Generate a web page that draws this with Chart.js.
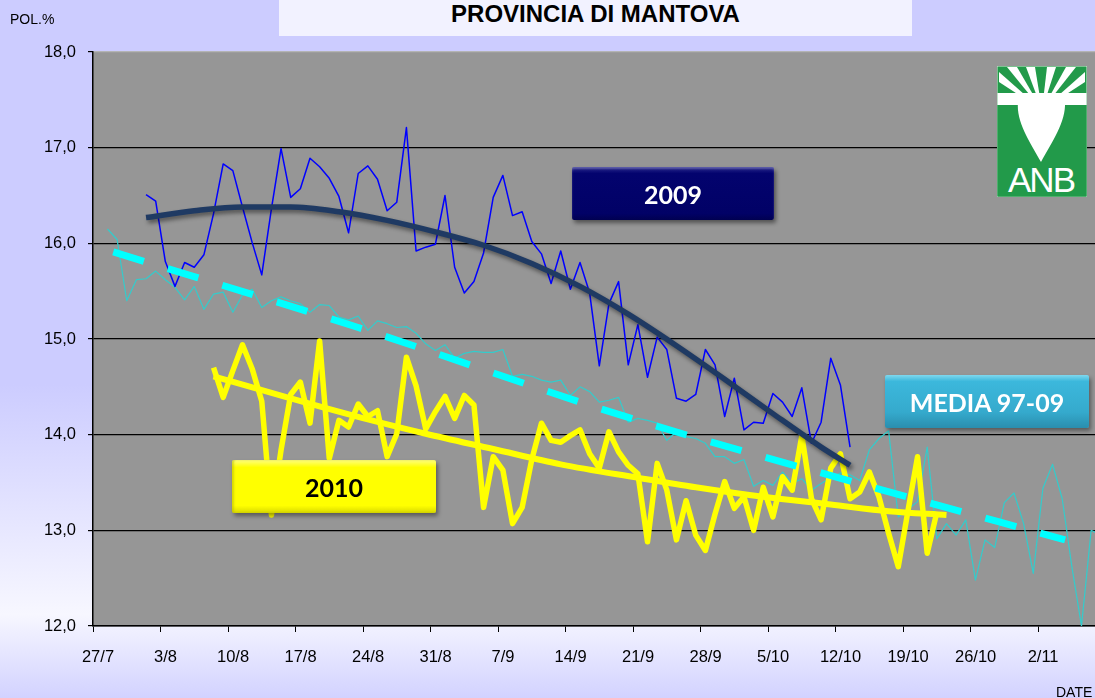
<!DOCTYPE html>
<html>
<head>
<meta charset="utf-8">
<script src="https://cdn.jsdelivr.net/npm/chart.js@4.4.0/dist/chart.umd.min.js"></script>
<style>
    html, body { margin: 0; padding: 0; }
    body {
        width: 1095px; height: 698px; overflow: hidden; position: relative;
        background: linear-gradient(to bottom, #ccccff 0%, #ccccff 55%, #f7f7ff 88%, #d2d2ff 100%);
        font-family: 'Liberation Sans', Arial, sans-serif;
    }
    #chart { position: absolute; left: 0; top: 0; }
    .title {
        position: absolute; left: 279px; top: 0; width: 633px; height: 36px;
        background: #f2f2ff; text-align: center; line-height: 36px;
        font: bold 24px 'Liberation Sans', Arial, sans-serif;
    }
    .unit { position: absolute; font-size: 14px; color: #000; }
    .tag {
        position: absolute; width: 204px; height: 53px; box-sizing: border-box;
        display: flex; align-items: center; justify-content: center;
        font: bold 25px 'Lato', sans-serif; border-radius: 2px;
    }
    .tag.y2009 {
        left: 572px; top: 167px; width: 202px; color: #fff;
        background: linear-gradient(#2a2a8c 0%, #03036e 12%, #010166 88%, #000050 100%);
        box-shadow: 2px 3px 4px rgba(0,0,0,0.45), inset 0 2px 2px rgba(255,255,255,0.25);
    }
    .tag.y2010 {
        left: 232px; top: 460px; color: #000;
        background: linear-gradient(#ffff80 0%, #ffff00 14%, #ffff00 86%, #d9d900 100%);
        box-shadow: 2px 3px 4px rgba(0,0,0,0.4), inset 2px 0 2px rgba(180,180,0,0.5);
    }
    .tag.media {
        left: 885px; top: 375px; color: #fff;
        background: linear-gradient(#7fd8ee 0%, #3cb8dc 12%, #35aacd 70%, #2a8eae 100%);
        box-shadow: 2px 3px 4px rgba(0,0,0,0.4);
    }
    #logo { position: absolute; left: 997px; top: 66px; }
</style>
</head>
<body>
<canvas id="chart" width="1095" height="698"></canvas>
<div class="title">PROVINCIA DI MANTOVA</div>
<div class="unit" style="left:10px; top:11px;">POL.%</div>
<div class="unit" style="left:1056px; top:684px;">DATE</div>
<div class="tag y2009">2009</div>
<div class="tag y2010">2010</div>
<div class="tag media">MEDIA 97-09</div>
<svg id="logo" width="90" height="131" viewBox="0 0 90 131">
    <rect x="0" y="0" width="90" height="131" fill="#229a4a" stroke="#d8ecd8" stroke-width="1"/>
    <g fill="#ffffff">
        <polygon points="45,44 2,6 2,16"/>
        <polygon points="45,44 10,1 20,1"/>
        <polygon points="45,44 29,1 38,1"/>
        <polygon points="45,44 50,1 59,1"/>
        <polygon points="45,44 69,1 79,1"/>
        <polygon points="45,44 88,6 88,16"/>
    </g>
    <rect x="0.5" y="39" width="89" height="91.5" fill="#229a4a"/>
    <rect x="0.5" y="27" width="89" height="12" fill="#ffffff"/>
    <path d="M21,36 Q44,31 68,36 C69,56 55,76 44,96 C33,76 19,56 21,36 Z" fill="#ffffff"/>
    <text x="45" y="126" text-anchor="middle" fill="#ffffff"
          font-family="Liberation Sans, Arial, sans-serif" font-size="35" textLength="68">ANB</text>
</svg>
<script>
// x values are days counted from 27/7
const tickLabels = ['27/7', '3/8', '10/8', '17/8', '24/8', '31/8', '7/9', '14/9',
                    '21/9', '28/9', '5/10', '12/10', '19/10', '26/10', '2/11'];

const mediaFirstDay = 1;
const mediaValues = [
    16.15, 16.04, 15.40, 15.62, 15.63, 15.71, 15.62, 15.54, 15.41, 15.55,
    15.31, 15.47, 15.49, 15.28, 15.46, 15.52, 15.33, 15.40, 15.44, 15.40,
    15.37, 15.28, 15.36, 15.35, 15.23, 15.20, 15.24, 15.09, 15.19, 15.16,
    15.12, 15.13, 15.06, 14.95, 14.88, 14.94, 14.80, 14.85, 14.87, 14.86,
    14.86, 14.89, 14.61, 14.63, 14.61, 14.57, 14.55, 14.57, 14.41, 14.50,
    14.45, 14.34, 14.36, 14.39, 14.13, 14.17, 14.15, 14.12, 13.94, 14.03,
    13.98, 13.96, 13.91, 13.77, 13.77, 13.70, 13.74, 13.46, 13.52, 13.47,
    13.61, 13.49, 13.54, 13.42, 13.49, 13.55, 13.60, 13.58, 13.52, 13.84,
    13.96, 14.04, 13.14, 13.22, 13.30, 13.87, 12.91, 13.07, 12.95, 13.11,
    12.48, 12.90, 12.82, 13.29, 13.39, 13.07, 12.55, 13.44, 13.69, 13.33,
    12.62, 12.00, 13.00, 12.95
];

const pol2009FirstDay = 5;
const pol2009Values = [
    16.51, 16.44, 15.81, 15.55, 15.80, 15.75, 15.88, 16.31, 16.83, 16.76,
    16.38, 16.01, 15.67, 16.36, 16.99, 16.48, 16.57, 16.89, 16.80, 16.68,
    16.49, 16.11, 16.73, 16.81, 16.67, 16.34, 16.43, 17.21, 15.92, 15.96,
    15.99, 16.50, 15.75, 15.48, 15.60, 15.90, 16.48, 16.71, 16.29, 16.33,
    16.02, 15.89, 15.58, 15.92, 15.52, 15.80, 15.48, 14.72, 15.37, 15.60,
    14.73, 15.15, 14.60, 15.02, 14.89, 14.38, 14.35, 14.42, 14.89, 14.73,
    14.19, 14.59, 14.05, 14.13, 14.12, 14.43, 14.34, 14.19, 14.49, 13.91,
    14.13, 14.80, 14.52, 13.87
];

const pol2010FirstDay = 12;
const pol2010Values = [
    14.70, 14.39, 14.67, 14.94, 14.69, 14.35, 13.16, 13.84, 14.42, 14.55,
    14.12, 14.98, 13.75, 14.15, 14.08, 14.32, 14.19, 14.25, 13.77, 14.01,
    14.81, 14.51, 14.06, 14.24, 14.40, 14.17, 14.41, 14.31, 13.24, 13.77,
    13.63, 13.07, 13.24, 13.74, 14.12, 13.94, 13.92, 13.99, 14.05, 13.80,
    13.65, 14.03, 13.82, 13.68, 13.59, 12.88, 13.70, 13.42, 12.90, 13.31,
    12.95, 12.79, 13.17, 13.51, 13.23, 13.35, 13.00, 13.45, 13.14, 13.56,
    13.42, 13.99, 13.33, 13.11, 13.65, 13.80, 13.33, 13.40, 13.61, 13.35,
    12.97, 12.62, 13.20, 13.77, 12.76, 13.19
];

// trend lines, read at a few days
const trend2009Days   = [5, 10, 15, 20, 25, 30, 35, 40, 45, 50, 55, 60, 65, 70, 75, 78];
const trend2009Values = [16.27, 16.34, 16.38, 16.38, 16.33, 16.24, 16.12, 15.98,
                         15.79, 15.55, 15.26, 14.93, 14.58, 14.22, 13.87, 13.68];

const trend2010Days   = [12, 20, 28, 34, 41, 48, 56, 62, 69, 76, 82, 88];
const trend2010Values = [14.61, 14.38, 14.16, 14.01, 13.85, 13.69, 13.55, 13.45,
                         13.35, 13.27, 13.20, 13.16];

const trendMediaDays   = [1.6, 27, 55, 80, 100.3];
const trendMediaValues = [15.91, 15.12, 14.18, 13.46, 12.90];

const series = (first, vals) => vals.map((v, i) => ({ x: first + i, y: v }));
const pairs  = (days, vals) => days.map((d, i) => ({ x: d, y: vals[i] }));

const plotBg = {
    id: 'plotBg',
    beforeDraw(chart) {
        const { ctx, chartArea: a } = chart;
        ctx.save();
        ctx.fillStyle = '#969696';
        ctx.fillRect(a.left, a.top, a.right - a.left, a.bottom - a.top);
        ctx.restore();
    }
};

const lineShadow = {
    id: 'lineShadow',
    beforeDatasetDraw(chart, args) {
        const ds = chart.data.datasets[args.index];
        if (!ds.shadowColor) return;
        const c = chart.ctx;
        c.save();
        c.shadowColor   = ds.shadowColor;
        c.shadowBlur    = 4;
        c.shadowOffsetX = 2;
        c.shadowOffsetY = 3;
    },
    afterDatasetDraw(chart, args) {
        if (chart.data.datasets[args.index].shadowColor) chart.ctx.restore();
    }
};

const axisFont = { family: "'Liberation Sans', Arial, sans-serif", size: 16.5 };

new Chart(document.getElementById('chart').getContext('2d'), {
    type: 'line',
    data: {
        datasets: [
            {
                label: 'Trend 2009',
                data: pairs(trend2009Days, trend2009Values),
                borderColor: '#1f3a63',
                borderWidth: 5.5,
                cubicInterpolationMode: 'monotone',
                shadowColor: 'rgba(0,0,0,0.45)',
                order: 0,
            },
            {
                label: 'Trend media',
                data: pairs(trendMediaDays, trendMediaValues),
                borderColor: '#00ffff',
                borderWidth: 7,
                borderDash: [32, 25],
                borderCapStyle: 'butt',
                cubicInterpolationMode: 'monotone',
                order: 1,
            },
            {
                label: 'Trend 2010',
                data: pairs(trend2010Days, trend2010Values),
                borderColor: '#ffff00',
                borderWidth: 6,
                cubicInterpolationMode: 'monotone',
                order: 2,
            },
            {
                label: '2010',
                data: series(pol2010FirstDay, pol2010Values),
                borderColor: '#ffff00',
                borderWidth: 5.5,
                order: 3,
            },
            {
                label: '2009',
                data: series(pol2009FirstDay, pol2009Values),
                borderColor: '#0000ff',
                borderWidth: 1.5,
                order: 4,
            },
            {
                label: 'MEDIA 97-09',
                data: series(mediaFirstDay, mediaValues),
                borderColor: '#33cccc',
                borderWidth: 1.2,
                order: 5,
            },
        ],
    },
    options: {
        responsive: false,
        animation: false,
        layout: { padding: { top: 52, right: 0, left: 0, bottom: 0 } },
        elements: {
            point: { radius: 0, hoverRadius: 0 },
            line:  { tension: 0, borderJoinStyle: 'round', fill: false },
        },
        plugins: {
            legend:  { display: false },
            tooltip: { enabled: false },
        },
        scales: {
            x: {
                type: 'linear',
                min: -0.5,
                max: 103.4,
                afterBuildTicks: s => { s.ticks = tickLabels.map((_, i) => ({ value: i * 7 - 0.5 })); },
                afterFit: s => { s.height = 72; },
                ticks: {
                    autoSkip: false,
                    maxRotation: 0,
                    labelOffset: 5,
                    padding: 16,
                    color: '#000',
                    font: axisFont,
                    callback: v => tickLabels[Math.round((v + 0.5) / 7)] ?? '',
                },
                grid:   { drawOnChartArea: false, tickLength: 6, tickColor: '#000' },
                border: { color: '#000', width: 1.5 },
            },
            y: {
                min: 12,
                max: 18,
                afterFit: s => { s.width = 93; },
                ticks: {
                    stepSize: 1,
                    padding: 12,
                    color: '#000',
                    font: axisFont,
                    callback: v => v.toFixed(1).replace('.', ','),
                },
                grid: {
                    color: ctx => ctx.tick && ctx.tick.value === 18 ? '#b4b4b4' : '#000',
                    lineWidth: 1.2,
                    tickLength: 5,
                    tickColor: '#000',
                },
                border: { color: '#000', width: 1.5 },
            },
        },
    },
    plugins: [plotBg, lineShadow],
});
</script>
</body>
</html>
